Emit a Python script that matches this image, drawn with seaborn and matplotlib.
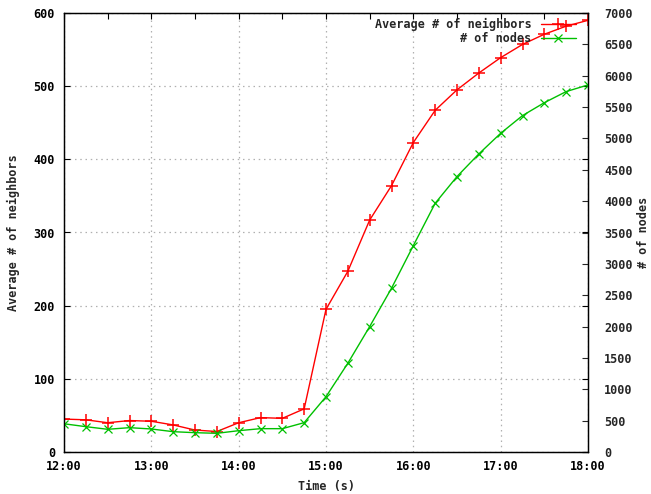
import matplotlib
matplotlib.use('Agg')
import matplotlib.pyplot as plt
import seaborn as sns
import pandas as pd
import numpy as np

# data (samples every 15 minutes)
times = ['12:00', '12:15', '12:30', '12:45', '13:00', '13:15', '13:30', '13:45',
         '14:00', '14:15', '14:30', '14:45', '15:00', '15:15', '15:30', '15:45',
         '16:00', '16:15', '16:30', '16:45', '17:00', '17:15', '17:30', '17:45', '18:00']
avg_neighbors = [45, 44, 40, 43, 42, 37, 30, 28, 40, 47, 46, 59, 195, 247, 317, 364,
                 423, 467, 495, 518, 539, 557, 571, 582, 590]
num_nodes = [450, 404, 362, 388, 367, 324, 308, 298, 340, 372, 372, 468, 882, 1415, 2000, 2611,
             3291, 3966, 4392, 4753, 5082, 5364, 5570, 5747, 5853]
hour_ticks = ['12:00', '13:00', '14:00', '15:00', '16:00', '17:00', '18:00']


def to_hours(t):
    h, m = t.split(':')
    return int(h) + int(m) / 60.0


df = pd.DataFrame({'t': [to_hours(t) for t in times],
                   'neighbors': avg_neighbors,
                   'nodes': num_nodes})

sns.set_style('white')
plt.rcParams['font.family'] = ['DejaVu Sans Mono']
plt.rcParams['font.weight'] = 'bold'
plt.rcParams['font.size'] = 8.5

fig = plt.figure(figsize=(6.51, 4.94), dpi=100)
ax = fig.add_axes([64 / 651, 42 / 494, 524 / 651, 439 / 494])
ax2 = ax.twinx()

sns.lineplot(data=df, x='t', y='neighbors', ax=ax, color='#ff0000', lw=1,
             marker='+', markersize=8, markeredgewidth=1.1, markeredgecolor='#ff0000',
             label='Average # of neighbors', legend=False)
sns.lineplot(data=df, x='t', y='nodes', ax=ax2, color='#00c000', lw=1,
             marker='x', markersize=6, markeredgewidth=0.9, markeredgecolor='#00c000',
             label='# of nodes', legend=False)

ax.set_xlim(12, 18)
ax.set_ylim(0, 600)
ax2.set_ylim(0, 7000)

ax.set_xticks([to_hours(t) for t in hour_ticks])
ax.set_xticklabels(hour_ticks)
ax.set_xticks(np.arange(12.5, 18, 1.0), minor=True)
ax.set_yticks(range(0, 601, 100))
ax2.set_yticks(range(0, 7001, 500))

ax.grid(True, which='major', color='#b0b0b0', linestyle=(0, (1.2, 3)), lw=0.9)
ax.tick_params(axis='both', which='both', direction='in', top=True, length=4, width=0.8,
               colors='black', labelsize=8.5)
ax.tick_params(axis='x', pad=6)
ax.tick_params(axis='y', right=True, pad=6.5)
ax2.tick_params(axis='y', direction='in', length=4, width=0.8, labelsize=8.5, pad=11.5)

for a in (ax, ax2):
    for s in a.spines.values():
        s.set_color('black')
        s.set_linewidth(0.9)

ax.set_xlabel('Time (s)', fontsize=8.5, fontweight='bold', labelpad=4.5)
ax.set_ylabel('Average # of neighbors', fontsize=8.5, fontweight='bold', labelpad=9.5)
ax2.set_ylabel('# of nodes', fontsize=8.5, fontweight='bold', labelpad=3.5)

h1, l1 = ax.get_legend_handles_labels()
h2, l2 = ax2.get_legend_handles_labels()
leg = ax2.legend(h1 + h2, l1 + l2, loc='upper right', frameon=False, markerfirst=False,
                 bbox_to_anchor=(1 - 5 / 524, 1 + 2 / 439),
                 handlelength=3.0, borderaxespad=0.0, borderpad=0.6, labelspacing=0.1,
                 handletextpad=0.76, fontsize=8.5)

fig.savefig('out.png', dpi=100)
